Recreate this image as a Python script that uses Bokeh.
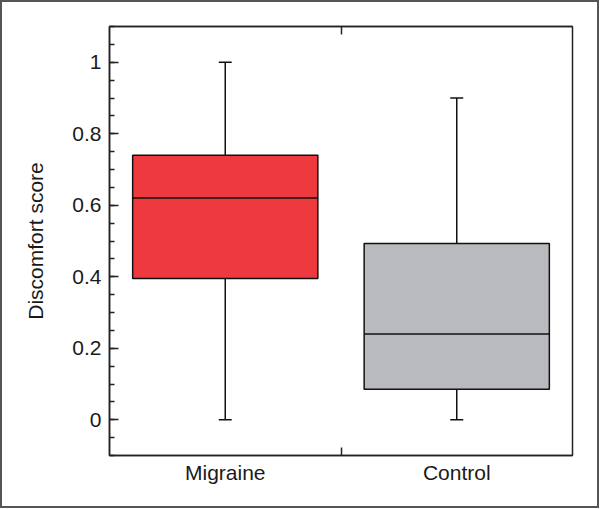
from bokeh.plotting import figure
from bokeh.models import Range1d, FixedTicker, SingleIntervalTicker, LinearAxis, CustomJSTickFormatter, ColumnDataSource
from bokeh.embed import file_html
from bokeh.resources import INLINE

categories = ["Migraine", "Control"]
whisker_low = [0.0, 0.0]
q1 = [0.395, 0.085]
median = [0.62, 0.24]
q3 = [0.74, 0.493]
whisker_high = [1.0, 0.90]
colors = ["#EE3A3F", "#B9BABE"]

xpos = [i + 0.5 for i in range(len(categories))]
cap = 0.028
src = ColumnDataSource(dict(x=xpos, lo=whisker_low, q1=q1, med=median, q3=q3, hi=whisker_high,
                            x0=[x - 0.4 for x in xpos], x1=[x + 0.4 for x in xpos],
                            c0=[x - cap for x in xpos], c1=[x + cap for x in xpos], color=colors))

FONT = "Liberation Sans"
TXT = "#1a1a1a"
LINE = "#222222"
p = figure(width=599, height=508, output_backend="svg", toolbar_location=None,
           x_range=Range1d(0, 2), y_range=Range1d(-0.1, 1.1),
           min_border_left=107, min_border_top=24, min_border_right=29, min_border_bottom=55,
           x_axis_type=None, y_axis_type=None)
p.styles = {"border": "2px solid #555555", "box-sizing": "border-box"}
p.grid.visible = False
p.outline_line_color = LINE
p.outline_line_width = 1.5
p.outline_line_alpha = 1

# y axis
yax = LinearAxis(ticker=SingleIntervalTicker(interval=0.2, num_minor_ticks=4),
                 formatter=CustomJSTickFormatter(code="return (Math.round(tick*10)/10).toString();"))
yax.axis_label = "Discomfort score"
yax.axis_label_text_font = FONT
yax.axis_label_text_font_size = "21px"
yax.axis_label_text_font_style = "normal"
yax.axis_label_text_color = TXT
yax.axis_label_standoff = 22
yax.major_label_text_font = FONT
yax.major_label_text_font_size = "21px"
yax.major_label_text_color = TXT
yax.major_label_standoff = 8
yax.major_tick_in = 9
yax.major_tick_out = 0
yax.minor_tick_in = 5
yax.minor_tick_out = 0
yax.axis_line_width = 1.5
yax.axis_line_color = LINE
yax.major_tick_line_color = LINE
yax.minor_tick_line_color = LINE
yax.major_tick_line_width = 1.5
yax.minor_tick_line_width = 1.5
p.add_layout(yax, "left")

# x axis bottom
xax = LinearAxis(ticker=FixedTicker(ticks=xpos, minor_ticks=[1.0]),
                 major_label_overrides={x: c for x, c in zip(xpos, categories)})
xax.major_label_text_font = FONT
xax.major_label_text_font_size = "21px"
xax.major_label_text_color = TXT
xax.major_label_standoff = 5
xax.major_tick_in = 0
xax.major_tick_out = 0
xax.minor_tick_in = 8
xax.minor_tick_out = 0
xax.minor_tick_line_width = 1.5
xax.minor_tick_line_color = LINE
xax.axis_line_width = 1.5
xax.axis_line_color = LINE
p.add_layout(xax, "below")

# top axis: only the separator tick, no labels
tax = LinearAxis(ticker=FixedTicker(ticks=[], minor_ticks=[1.0]))
tax.major_tick_in = 0
tax.major_tick_out = 0
tax.minor_tick_in = 8
tax.minor_tick_out = 0
tax.minor_tick_line_width = 1.5
tax.minor_tick_line_color = LINE
tax.axis_line_width = 1.5
tax.axis_line_color = LINE
p.add_layout(tax, "above")

# whiskers
p.segment(x0="x", y0="q3", x1="x", y1="hi", source=src, line_color="#111111", line_width=1.5)
p.segment(x0="x", y0="q1", x1="x", y1="lo", source=src, line_color="#111111", line_width=1.5)
p.segment(x0="c0", y0="hi", x1="c1", y1="hi", source=src, line_color="#111111", line_width=1.5)
p.segment(x0="c0", y0="lo", x1="c1", y1="lo", source=src, line_color="#111111", line_width=1.5)
# boxes
p.quad(left="x0", right="x1", bottom="q1", top="q3", source=src, fill_color="color",
       line_color="#111111", line_width=1.5)
p.segment(x0="x0", y0="med", x1="x1", y1="med", source=src, line_color="#111111", line_width=1.5)

open("out.html", "w").write(file_html(p, INLINE))
